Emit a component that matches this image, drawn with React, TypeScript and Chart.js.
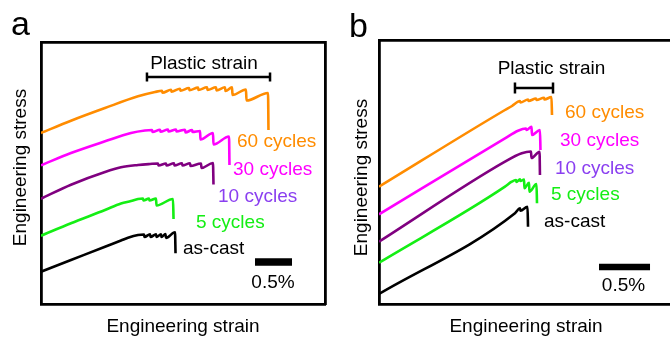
import React, { useEffect, useRef } from 'react';
import { Chart, registerables } from 'chart.js';

Chart.register(...registerables);

const FONT = '"Liberation Sans", Arial, Helvetica, sans-serif';

const seriesNames = ['60 cycles', '30 cycles', '10 cycles', '5 cycles', 'as-cast'];
const lineColors = ['#FF8C00', '#FF00FF', '#800080', '#14EE14', '#000000'];
const labelColors = ['#FF8C00', '#FF00FF', '#8A3FF0', '#14EE14', '#000000'];

// ---------- Panel a: engineering strain (%) vs engineering stress (a.u., curves offset) ----------
const aStrain60 = [0, 0.405, 0.865, 1.311, 1.541, 1.635, 1.642, 1.757, 1.764, 1.878, 1.885, 2.0, 2.007, 2.122, 2.128, 2.243, 2.25, 2.365, 2.372, 2.486, 2.493, 2.581, 2.588, 2.77, 2.777, 3.068, 3.074];
const aStress60 = [171, 183.3, 196, 207.7, 212, 213.2, 211.2, 214.3, 212.3, 215.3, 213.3, 216, 213.7, 216.4, 214, 216.7, 214, 216.7, 213.5, 216.7, 213, 216.7, 209, 214.5, 203.5, 211, 174];

const aStrain30 = [0, 0.405, 0.865, 1.216, 1.405, 1.5, 1.507, 1.608, 1.615, 1.716, 1.723, 1.824, 1.831, 1.946, 1.953, 2.041, 2.047, 2.149, 2.155, 2.324, 2.331, 2.541, 2.547];
const aStress30 = [138.7, 151, 162.7, 171, 173.5, 174, 172, 174.3, 172.3, 174.5, 172.5, 174.5, 172.5, 174.3, 171.5, 174, 172, 173, 164.5, 171, 159.5, 167.5, 139];

const aStrain10 = [0, 0.405, 0.865, 1.081, 1.311, 1.473, 1.581, 1.588, 1.689, 1.696, 1.797, 1.804, 1.905, 1.912, 2.014, 2.02, 2.162, 2.169, 2.324, 2.331];
const aStress10 = [105.3, 119.3, 132, 136.7, 139, 140, 140.5, 138.5, 140.5, 138.5, 140.7, 138.5, 140.7, 138.5, 140.7, 138, 140.5, 136, 141, 119.5];

const aStrain5 = [0, 0.405, 0.865, 1.081, 1.216, 1.311, 1.378, 1.385, 1.459, 1.466, 1.554, 1.561, 1.784, 1.791];
const aStress5 = [68.3, 80.7, 94, 100.5, 103, 105, 105.5, 103.5, 105.5, 103.5, 105.5, 98.5, 105, 85];

const aStrainCast = [0, 0.405, 0.865, 1.081, 1.176, 1.311, 1.392, 1.399, 1.473, 1.48, 1.554, 1.561, 1.622, 1.628, 1.682, 1.689, 1.811, 1.818];
const aStressCast = [32.3, 44, 57.3, 63.5, 66.3, 69, 69.5, 67, 69.7, 67, 69.7, 67, 69.8, 67, 70, 66, 71.7, 50.7];

// ---------- Panel b ----------
const bStrain60 = [0, 1.235, 1.304, 1.363, 1.382, 1.387, 1.461, 1.466, 1.539, 1.544, 1.618, 1.623, 1.691, 1.696];
const bStress60 = [117.3, 194, 198, 202.3, 203, 201.5, 204.5, 203, 205.5, 204, 206.2, 204.5, 207, 189];

const bStrain30 = [0, 1.235, 1.363, 1.441, 1.446, 1.495, 1.5, 1.578, 1.583];
const bStress30 = [89.7, 165.7, 173.3, 175.5, 174, 177.3, 169, 174, 154];

const bStrain10 = [0, 1.235, 1.399, 1.49, 1.495, 1.574, 1.578];
const bStress10 = [62.3, 142.3, 150.7, 152.5, 146, 152.3, 129];

const bStrain5 = [0, 1.235, 1.301, 1.343, 1.348, 1.382, 1.387, 1.422, 1.426, 1.471, 1.475, 1.544, 1.549];
const bStress5 = [41.3, 117.3, 122.3, 124, 122, 124.7, 123, 124.5, 115.7, 121.3, 112.3, 120, 100.7];

const bStrainCast = [0, 1.333, 1.382, 1.387, 1.456, 1.461];
const bStressCast = [10, 90.7, 95.7, 93.3, 97.3, 77.3];

// annotations (strain %, stress a.u.)
const aPlasticRange = [1.432, 3.095];
const aPlasticLevel = 227;
const aScaleBarStart = 2.892;
const aScaleBarLevel = 42;
const bPlasticRange = [1.333, 1.706];
const bPlasticLevel = 216;
const bScaleBarStart = 2.157;
const bScaleBarLevel = 37;
const scaleBarLength = 0.5;

type Txt = { text: string; x: number; y: number; color: string; size: number; align: CanvasTextAlign; rotate?: boolean };

function zip(xs: number[], ys: number[]) {
  return xs.map((x, i) => ({ x, y: ys[i] }));
}

function makeOverlay(cfg: {
  texts: Txt[];
  plastic: number[];
  plasticLevel: number;
  tick: number;
  barStart: number;
  barLevel: number;
  barThick: number;
}) {
  return {
    id: 'overlay',
    afterDraw(chart: any) {
      const { ctx } = chart;
      const xs = chart.scales.x;
      const ys = chart.scales.y;
      ctx.save();
      // Plastic strain bracket
      const bx1 = xs.getPixelForValue(cfg.plastic[0]);
      const bx2 = xs.getPixelForValue(cfg.plastic[1]);
      const by = ys.getPixelForValue(cfg.plasticLevel);
      ctx.strokeStyle = '#000';
      ctx.lineWidth = 2.5;
      ctx.beginPath();
      ctx.moveTo(bx1, by);
      ctx.lineTo(bx2, by);
      ctx.moveTo(bx1, by - cfg.tick);
      ctx.lineTo(bx1, by + cfg.tick);
      ctx.moveTo(bx2, by - cfg.tick);
      ctx.lineTo(bx2, by + cfg.tick);
      ctx.stroke();
      // scale bar
      const sx1 = xs.getPixelForValue(cfg.barStart);
      const sx2 = xs.getPixelForValue(cfg.barStart + scaleBarLength);
      const sy = ys.getPixelForValue(cfg.barLevel);
      ctx.fillStyle = '#000';
      ctx.fillRect(sx1, sy - cfg.barThick / 2, sx2 - sx1, cfg.barThick);
      // texts
      ctx.textBaseline = 'alphabetic';
      for (const t of cfg.texts) {
        ctx.font = `${t.size}px ${FONT}`;
        ctx.fillStyle = t.color;
        ctx.textAlign = t.align;
        if (t.rotate) {
          ctx.save();
          ctx.translate(t.x, t.y);
          ctx.rotate(-Math.PI / 2);
          ctx.fillText(t.text, 0, 0);
          ctx.restore();
        } else {
          ctx.fillText(t.text, t.x, t.y);
        }
      }
      ctx.restore();
    },
  };
}

function axisOpts(position: string, min: number, max: number) {
  return {
    type: 'linear',
    position,
    min,
    max,
    ticks: { display: false },
    grid: { display: false, drawTicks: false },
    border: { display: true, color: '#000', width: 2.8 },
    title: { display: false },
  };
}

function buildConfig(
  series: { x: number[]; y: number[] }[],
  xMax: number,
  yMax: number,
  padding: { left: number; right: number; top: number; bottom: number },
  overlay: any
) {
  return {
    type: 'line',
    data: {
      datasets: series.map((s, i) => ({
        label: seriesNames[i],
        data: zip(s.x, s.y),
        borderColor: lineColors[i],
        backgroundColor: lineColors[i],
        borderWidth: 2.6,
        pointRadius: 0,
        cubicInterpolationMode: 'monotone',
        fill: false,
        borderJoinStyle: 'round',
        borderCapStyle: 'butt',
      })),
    },
    options: {
      animation: false,
      responsive: false,
      devicePixelRatio: 1,
      layout: { padding },
      plugins: { legend: { display: false }, tooltip: { enabled: false }, title: { display: false } },
      scales: {
        x: axisOpts('bottom', 0, xMax),
        y: axisOpts('left', 0, yMax),
        x2: axisOpts('top', 0, xMax),
        y2: axisOpts('right', 0, yMax),
      },
    },
    plugins: [overlay],
  };
}

const S = 19;

export default function App() {
  const refA = useRef<HTMLCanvasElement>(null);
  const refB = useRef<HTMLCanvasElement>(null);

  useEffect(() => {
    const textsA: Txt[] = [
      { text: 'a', x: 11, y: 35, color: '#000', size: 34, align: 'left' },
      { text: 'Plastic strain', x: 204, y: 69, color: '#000', size: S, align: 'center' },
      { text: seriesNames[0], x: 237, y: 147, color: labelColors[0], size: S, align: 'left' },
      { text: seriesNames[1], x: 233, y: 175, color: labelColors[1], size: S, align: 'left' },
      { text: seriesNames[2], x: 218, y: 201.5, color: labelColors[2], size: S, align: 'left' },
      { text: seriesNames[3], x: 196, y: 227.5, color: labelColors[3], size: S, align: 'left' },
      { text: seriesNames[4], x: 183, y: 253.5, color: labelColors[4], size: S, align: 'left' },
      { text: '0.5%', x: 273, y: 287.5, color: '#000', size: S, align: 'center' },
      { text: 'Engineering strain', x: 183, y: 332, color: '#000', size: S, align: 'center' },
      { text: 'Engineering stress', x: 26, y: 167.5, color: '#000', size: S, align: 'center', rotate: true },
    ];
    const textsB: Txt[] = [
      { text: 'b', x: 14, y: 37, color: '#000', size: 34, align: 'left' },
      { text: 'Plastic strain', x: 216.5, y: 73.5, color: '#000', size: S, align: 'center' },
      { text: seriesNames[0], x: 230, y: 117.5, color: labelColors[0], size: S, align: 'left' },
      { text: seriesNames[1], x: 225, y: 145.5, color: labelColors[1], size: S, align: 'left' },
      { text: seriesNames[2], x: 220, y: 174, color: labelColors[2], size: S, align: 'left' },
      { text: seriesNames[3], x: 216, y: 200, color: labelColors[3], size: S, align: 'left' },
      { text: seriesNames[4], x: 209, y: 227, color: labelColors[4], size: S, align: 'left' },
      { text: '0.5%', x: 288.5, y: 290.5, color: '#000', size: S, align: 'center' },
      { text: 'Engineering strain', x: 191, y: 332, color: '#000', size: S, align: 'center' },
      { text: 'Engineering stress', x: 32, y: 177.5, color: '#000', size: S, align: 'center', rotate: true },
    ];

    const chartA = new Chart(
      refA.current as HTMLCanvasElement,
      buildConfig(
        [
          { x: aStrain60, y: aStress60 },
          { x: aStrain30, y: aStress30 },
          { x: aStrain10, y: aStress10 },
          { x: aStrain5, y: aStress5 },
          { x: aStrainCast, y: aStressCast },
        ],
        (325 - 41) / 74,
        262,
        { left: 41, right: 10, top: 42, bottom: 34 },
        makeOverlay({
          texts: textsA,
          plastic: aPlasticRange,
          plasticLevel: aPlasticLevel,
          tick: 4.5,
          barStart: aScaleBarStart,
          barLevel: aScaleBarLevel,
          barThick: 7.5,
        })
      ) as any
    );
    const chartB = new Chart(
      refB.current as HTMLCanvasElement,
      buildConfig(
        [
          { x: bStrain60, y: bStress60 },
          { x: bStrain30, y: bStress30 },
          { x: bStrain10, y: bStress10 },
          { x: bStrain5, y: bStress5 },
          { x: bStrainCast, y: bStressCast },
        ],
        (672 - 379) / 102,
        264,
        { left: 44, right: 3, top: 40, bottom: 34 },
        makeOverlay({
          texts: textsB,
          plastic: bPlasticRange,
          plasticLevel: bPlasticLevel,
          tick: 5.5,
          barStart: bScaleBarStart,
          barLevel: bScaleBarLevel,
          barThick: 6.5,
        })
      ) as any
    );
    return () => {
      chartA.destroy();
      chartB.destroy();
    };
  }, []);

  return (
    <div
      style={{
        position: 'fixed',
        left: 0,
        top: 0,
        width: 670,
        height: 338,
        overflow: 'hidden',
        background: '#fff',
      }}
    >
      <canvas ref={refA} width={335} height={338} style={{ position: 'absolute', left: 0, top: 0, width: 335, height: 338 }} />
      <canvas ref={refB} width={340} height={338} style={{ position: 'absolute', left: 335, top: 0, width: 340, height: 338 }} />
    </div>
  );
}
